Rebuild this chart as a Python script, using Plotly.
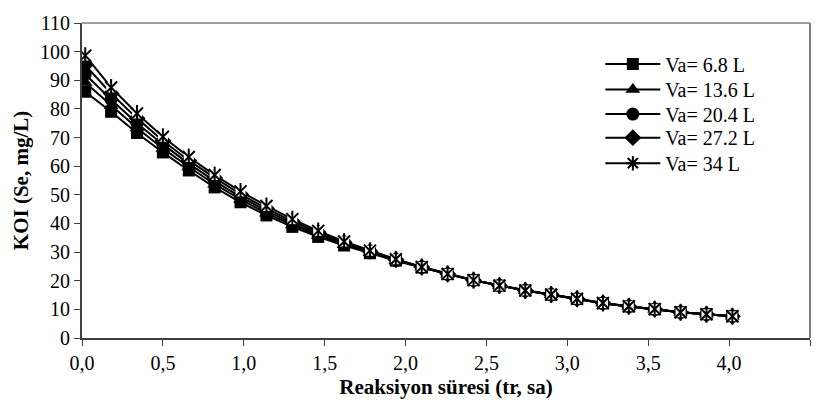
import plotly.graph_objects as go

x_time = [0.02, 0.18, 0.34, 0.50, 0.66, 0.82, 0.98, 1.14, 1.30, 1.46, 1.62, 1.78, 1.94,
          2.10, 2.26, 2.42, 2.58, 2.74, 2.90, 3.06, 3.22, 3.38, 3.54, 3.70, 3.86, 4.02]

va_6_8 = [86.0, 79.0, 71.6, 64.8, 58.5, 52.6, 47.4, 42.8, 38.8, 35.3, 32.3, 29.6, 27.0,
          24.6, 22.3, 20.2, 18.3, 16.6, 15.1, 13.6, 12.1, 11.0, 10.0, 9.0, 8.3, 7.6]
va_13_6 = [89.2, 81.1, 73.3, 66.2, 59.7, 53.7, 48.4, 43.6, 39.5, 35.8, 32.6, 29.8, 27.1,
           24.7, 22.3, 20.2, 18.3, 16.6, 15.1, 13.6, 12.1, 11.0, 10.0, 9.0, 8.3, 7.6]
va_20_4 = [92.1, 83.3, 75.0, 67.6, 60.9, 54.8, 49.3, 44.4, 40.1, 36.3, 33.0, 30.0, 27.2,
           24.7, 22.3, 20.2, 18.3, 16.6, 15.1, 13.6, 12.1, 11.0, 10.0, 9.0, 8.3, 7.6]
va_27_2 = [95.3, 85.4, 76.7, 68.9, 62.0, 55.9, 50.2, 45.2, 40.8, 36.9, 33.4, 30.3, 27.4,
           24.8, 22.4, 20.2, 18.3, 16.6, 15.2, 13.7, 12.2, 11.1, 10.1, 9.0, 8.3, 7.6]
va_34 = [98.6, 87.5, 78.4, 70.3, 63.2, 56.9, 51.2, 46.1, 41.5, 37.4, 33.7, 30.5, 27.5,
         24.8, 22.4, 20.2, 18.3, 16.6, 15.2, 13.7, 12.2, 11.1, 10.1, 9.0, 8.3, 7.6]

names = ["Va= 6.8 L", "Va= 13.6 L", "Va= 20.4 L", "Va= 27.2 L", "Va= 34 L"]
x_ticks = [0.0, 0.5, 1.0, 1.5, 2.0, 2.5, 3.0, 3.5, 4.0, 4.5]
y_ticks = [0, 10, 20, 30, 40, 50, 60, 70, 80, 90, 100, 110]

FONT = "Liberation Serif"
legend_ids = ["legend", "legend2", "legend3", "legend4", "legend5"]
legend_y = [0.870, 0.789, 0.711, 0.636, 0.555]

fig = go.Figure()

series = [(va_6_8, "square", 12), (va_13_6, "triangle-up", 13),
          (va_20_4, "circle", 13), (va_27_2, "diamond", 13)]
for (vals, sym, sz), nm, lg in zip(series, names[:4], legend_ids[:4]):
    fig.add_trace(go.Scatter(x=x_time, y=vals, name=nm, mode="lines+markers",
                             legend=lg,
                             line=dict(color="black", width=2),
                             marker=dict(symbol=sym, size=sz, color="black",
                                         line=dict(width=0))))

# Va = 34 L : line, white box, X and vertical bar
fig.add_trace(go.Scatter(x=x_time, y=va_34, mode="lines", showlegend=False,
                         line=dict(color="black", width=2), hoverinfo="skip"))
fig.add_trace(go.Scatter(x=x_time, y=va_34, mode="markers", showlegend=False,
                         marker=dict(symbol="square", size=10, color="white",
                                     line=dict(width=0)), hoverinfo="skip"))
fig.add_trace(go.Scatter(x=x_time, y=va_34, mode="markers", showlegend=False,
                         marker=dict(symbol="x-thin-open", size=12, color="black",
                                     line=dict(width=2, color="black"))))
fig.add_trace(go.Scatter(x=x_time, y=va_34, mode="markers", showlegend=False,
                         marker=dict(symbol="line-ns-open", size=12, color="black",
                                     line=dict(width=2, color="black")), hoverinfo="skip"))
fig.add_trace(go.Scatter(x=[None], y=[None], name=names[4], mode="lines+markers",
                         legend=legend_ids[4],
                         line=dict(color="black", width=2),
                         marker=dict(symbol="asterisk-open", size=12, color="black",
                                     line=dict(width=2, color="black"))))

legend_cfg = {}
for lg, ly in zip(legend_ids, legend_y):
    legend_cfg[lg] = dict(x=0.712, y=ly, xanchor="left", yanchor="middle",
                          bgcolor="rgba(0,0,0,0)", borderwidth=0,
                          font=dict(family=FONT, size=20, color="black"),
                          itemwidth=55)

fig.update_layout(
    width=822, height=412,
    margin=dict(l=82, r=12, t=17, b=74),
    paper_bgcolor="white", plot_bgcolor="white",
    separators=", ",
    font=dict(family=FONT, size=20, color="black"),
    showlegend=True,
    xaxis=dict(range=[0, 4.5], tickvals=x_ticks, tickformat=".1f",
               showgrid=False, zeroline=False, showline=True, linecolor="#404040",
               linewidth=2, ticks="outside", ticklen=6, tickcolor="#404040",
               tickfont=dict(family=FONT, size=20),
               title=dict(text="<b>Reaksiyon süresi (tr, sa)</b>",
                          font=dict(family=FONT, size=21), standoff=6)),
    yaxis=dict(range=[0, 110], tickvals=y_ticks,
               showgrid=False, zeroline=False, showline=True, linecolor="#404040",
               linewidth=2, ticks="outside", ticklen=6, tickcolor="#404040",
               tickfont=dict(family=FONT, size=20),
               title=dict(text="<b>KOI (Se, mg/L)</b>",
                          font=dict(family=FONT, size=21), standoff=6)),
    shapes=[
        dict(type="line", xref="paper", yref="paper", x0=0, x1=1, y0=1, y1=1,
             line=dict(color="#808080", width=1.5)),
        dict(type="line", xref="paper", yref="paper", x0=1, x1=1, y0=0, y1=1,
             line=dict(color="#808080", width=2)),
    ],
    **legend_cfg,
)

fig.write_html("out.html")
